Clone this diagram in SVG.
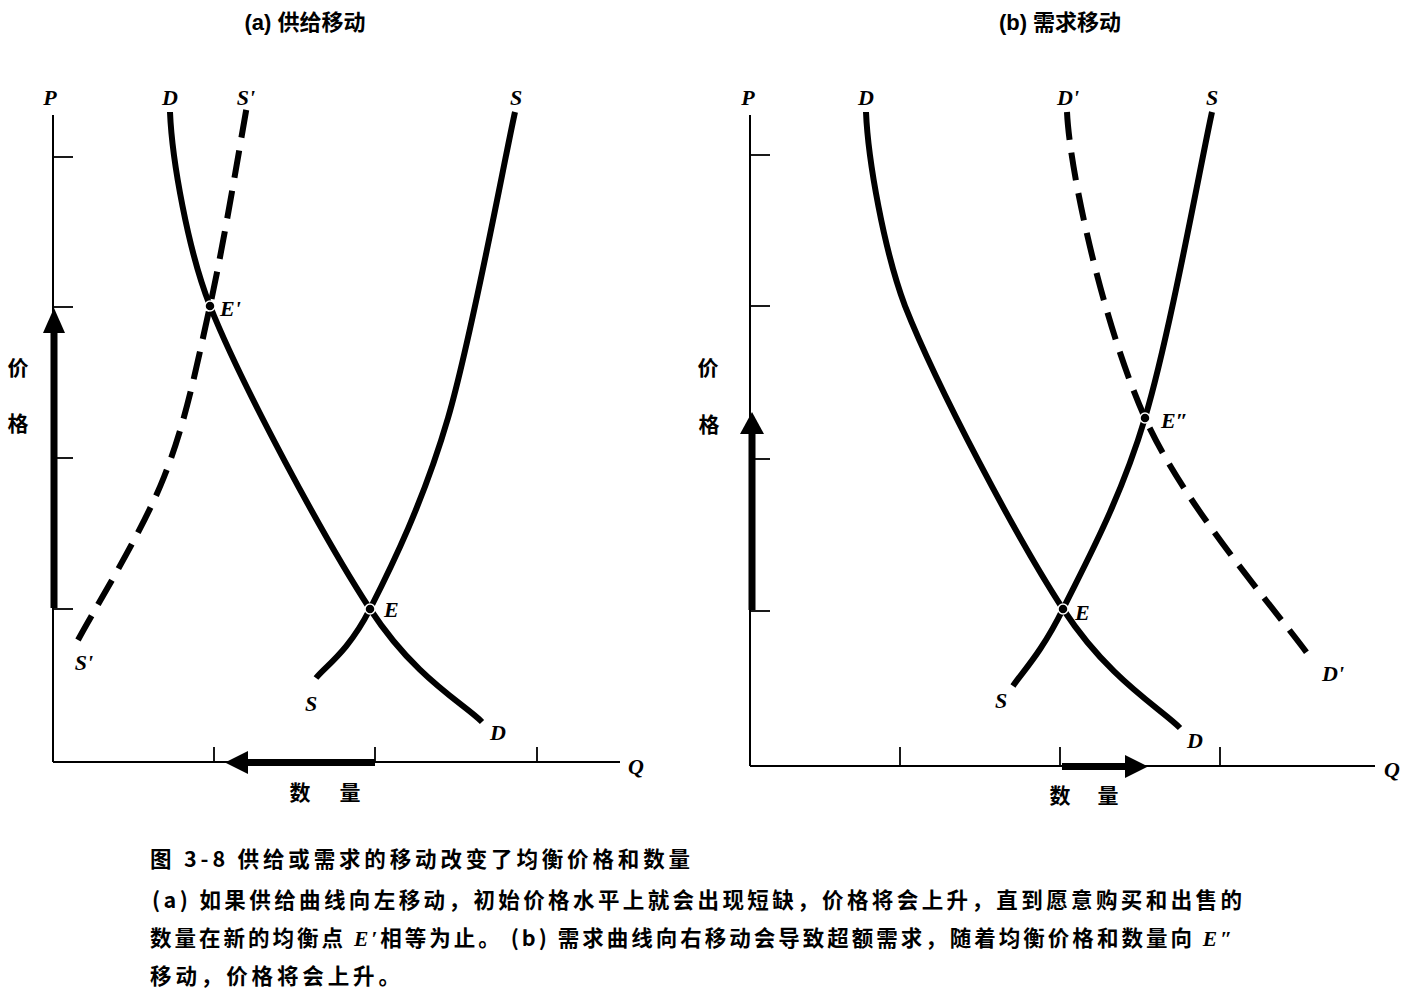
<svg xmlns="http://www.w3.org/2000/svg" width="1408" height="992" viewBox="0 0 1408 992">
<style>
.axis{stroke:#000;stroke-width:2;fill:none}
.tick{stroke:#000;stroke-width:1.8;fill:none}
.curve{stroke:#000;stroke-width:6;fill:none;stroke-linecap:butt}
.dash{stroke:#000;stroke-width:6;fill:none;stroke-dasharray:28 13}
.shaft{fill:#000}
.lbl{font-family:"Liberation Serif","DejaVu Serif",serif;font-style:italic;font-weight:bold;font-size:22px;fill:#000}
.cjk{font-family:"Noto Sans CJK SC","Noto Sans",sans-serif;font-weight:bold;font-size:21px;fill:#000}
.title{font-family:"Liberation Sans","Noto Sans CJK SC",sans-serif;font-weight:bold;font-size:22px;fill:#000}
.cap{font-family:"Noto Sans CJK SC","Noto Sans",sans-serif;font-weight:bold;font-size:21.5px;fill:#000}
.em{font-family:"Liberation Serif",serif;font-style:italic}
.pt{fill:#000;stroke:#fff;stroke-width:1.5}
</style>
<rect width="1408" height="992" fill="#fff"/>

<g id="panel-a">
  <text class="title" x="305" y="30" text-anchor="middle">(a) 供给移动</text>
  <g id="axes-a">
    <line class="axis" x1="53" y1="115" x2="53" y2="762"/>
    <line class="axis" x1="53" y1="762" x2="620" y2="762"/>
    <line class="tick" x1="53" y1="157" x2="73" y2="157"/>
    <line class="tick" x1="53" y1="307" x2="73" y2="307"/>
    <line class="tick" x1="53" y1="458" x2="73" y2="458"/>
    <line class="tick" x1="53" y1="609" x2="73" y2="609"/>
    <line class="tick" x1="214" y1="747" x2="214" y2="762"/>
    <line class="tick" x1="375" y1="747" x2="375" y2="762"/>
    <line class="tick" x1="537" y1="747" x2="537" y2="762"/>
    <text class="lbl" x="50" y="105" text-anchor="middle">P</text>
    <text class="lbl" x="636" y="774" text-anchor="middle">Q</text>
    <text class="cjk" x="18" y="375" text-anchor="middle">价</text>
    <text class="cjk" x="18" y="431" text-anchor="middle">格</text>
    <text class="cjk" x="300" y="800" text-anchor="middle">数</text>
    <text class="cjk" x="350" y="800" text-anchor="middle">量</text>
  </g>
  <g id="curve-D-a">
    <path class="curve" d="M170,112 C172,160 188,250 210,306 C243.3,388.8 324.7,539.7 370,609 C415.3,678.3 463.3,703.2 482,722"/>
    <text class="lbl" x="170" y="105" text-anchor="middle">D</text>
    <text class="lbl" x="498" y="740" text-anchor="middle">D</text>
  </g>
  <g id="curve-S-a">
    <path class="curve" d="M316,678 C325,666.5 348,652.3 370,609 C392,565.7 423.8,500.8 448,418 C472.2,335.2 503.8,163 515,112"/>
    <text class="lbl" x="516" y="105" text-anchor="middle">S</text>
    <text class="lbl" x="311" y="711" text-anchor="middle">S</text>
  </g>
  <g id="curve-S2-a">
    <path class="dash" d="M78,640 C92.3,612.8 142,532.7 164,477 C186,421.3 196,368.8 210,306 C224,243.2 241.7,134.3 248,100"/>
    <text class="lbl" x="246" y="105" text-anchor="middle">S'</text>
    <text class="lbl" x="84" y="670" text-anchor="middle">S'</text>
  </g>
  <g id="point-E-a">
    <circle class="pt" cx="370" cy="609" r="5"/>
    <text class="lbl" x="384" y="617">E</text>
  </g>
  <g id="point-E1-a">
    <circle class="pt" cx="210" cy="306" r="5"/>
    <text class="lbl" x="220" y="316">E'</text>
  </g>
</g>

<g id="panel-b">
  <text class="title" x="1060" y="30" text-anchor="middle">(b) 需求移动</text>
  <g id="axes-b">
    <line class="axis" x1="750" y1="115" x2="750" y2="766"/>
    <line class="axis" x1="750" y1="766" x2="1375" y2="766"/>
    <line class="tick" x1="750" y1="155" x2="770" y2="155"/>
    <line class="tick" x1="750" y1="306" x2="770" y2="306"/>
    <line class="tick" x1="750" y1="459" x2="770" y2="459"/>
    <line class="tick" x1="750" y1="611" x2="770" y2="611"/>
    <line class="tick" x1="900" y1="747" x2="900" y2="766"/>
    <line class="tick" x1="1060" y1="747" x2="1060" y2="766"/>
    <line class="tick" x1="1220" y1="747" x2="1220" y2="766"/>
    <text class="lbl" x="748" y="105" text-anchor="middle">P</text>
    <text class="lbl" x="1392" y="777" text-anchor="middle">Q</text>
    <text class="cjk" x="708" y="375" text-anchor="middle">价</text>
    <text class="cjk" x="709" y="432" text-anchor="middle">格</text>
    <text class="cjk" x="1060" y="803" text-anchor="middle">数</text>
    <text class="cjk" x="1108" y="803" text-anchor="middle">量</text>
  </g>
  <g id="curve-D-b">
    <path class="curve" d="M866,112 C868,160 884,250 905,306 C937.8,388.8 1017.2,538.7 1063,609 C1108.8,679.3 1160.5,708.2 1180,728"/>
    <text class="lbl" x="866" y="105" text-anchor="middle">D</text>
    <text class="lbl" x="1195" y="748" text-anchor="middle">D</text>
  </g>
  <g id="curve-S-b">
    <path class="curve" d="M1013,686 C1021.3,673.2 1041,653.7 1063,609 C1085,564.3 1120.2,500.8 1145,418 C1169.8,335.2 1200.8,163 1212,112"/>
    <text class="lbl" x="1212" y="105" text-anchor="middle">S</text>
    <text class="lbl" x="1001" y="708" text-anchor="middle">S</text>
  </g>
  <g id="curve-D2-b">
    <path class="dash" d="M1067,112 C1070,175 1104.2,326.7 1145,418 C1185.8,509.3 1284.2,619.7 1312,660"/>
    <text class="lbl" x="1068" y="105" text-anchor="middle">D'</text>
    <text class="lbl" x="1333" y="681" text-anchor="middle">D'</text>
  </g>
  <g id="point-E-b">
    <circle class="pt" cx="1063" cy="609" r="5"/>
    <text class="lbl" x="1075" y="620">E</text>
  </g>
  <g id="point-E2-b">
    <circle class="pt" cx="1145" cy="418" r="5"/>
    <text class="lbl" x="1161" y="428">E″</text>
  </g>
</g>

<g id="connectors">
  <rect class="shaft" x="50.5" y="330" width="7" height="278"/>
  <polygon class="shaft" points="54,308 43,333 65,333"/>
  <rect class="shaft" x="245" y="759" width="130" height="7"/>
  <polygon class="shaft" points="225,762.5 248,751 248,774"/>
  <rect class="shaft" x="748.5" y="431" width="7" height="179"/>
  <polygon class="shaft" points="752,412 740,434 764,434"/>
  <rect class="shaft" x="1062" y="763" width="65" height="7"/>
  <polygon class="shaft" points="1148,766.5 1125,755 1125,778"/>
</g>

<g id="caption">
  <text class="cap" x="150" y="867" textLength="540" lengthAdjust="spacing">图 3-8  供给或需求的移动改变了均衡价格和数量</text>
  <text class="cap" x="152" y="908" textLength="1090" lengthAdjust="spacing">(a) 如果供给曲线向左移动，初始价格水平上就会出现短缺，价格将会上升，直到愿意购买和出售的</text>
  <text class="cap" x="150" y="946" textLength="1082" lengthAdjust="spacing">数量在新的均衡点 <tspan class="em">E′</tspan>相等为止。 (b) 需求曲线向右移动会导致超额需求，随着均衡价格和数量向 <tspan class="em">E″</tspan></text>
  <text class="cap" x="150" y="984" textLength="250" lengthAdjust="spacing">移动，价格将会上升。</text>
</g>
</svg>
